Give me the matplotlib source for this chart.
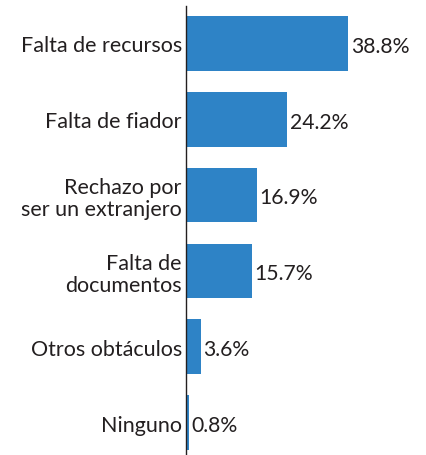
import matplotlib.pyplot as plt


categories = [
    "Falta de recursos",
    "Falta de fiador",
    "Rechazo por\nser un extranjero",
    "Falta de\ndocumentos",
    "Otros obtáculos",
    "Ninguno",
]
percentages = [38.8, 24.2, 16.9, 15.7, 3.6, 0.8]

BAR_COLOR = "#2E83C6"
TEXT_COLOR = "#231F20"

plt.rcParams["font.family"] = ["Lato", "DejaVu Sans"]

W, H = 426, 456
fig = plt.figure(figsize=(W / 100, H / 100), dpi=100)

# axis spine sits at x=186 px, runs from y=7 px to the bottom edge
ax = fig.add_axes([186 / W, 0, 240 / W, (H - 7) / H])

positions = list(range(len(categories)))
ax.barh(positions, percentages, height=0.72, color=BAR_COLOR)

px_per_cat = 75.8
ax.set_ylim((456 - 44.5) / px_per_cat, -(44.5 - 7) / px_per_cat)
ax.set_xlim(0, 240 / 4.18)

for pos, value in zip(positions, percentages):
    ax.text(value + 0.6, pos + 0.03, f"{value}%", va="center", ha="left",
            fontsize=15.2, color=TEXT_COLOR)

ax.set_yticks(positions)
ax.set_yticklabels(categories, fontsize=15.5, color=TEXT_COLOR, linespacing=1.15)
ax.tick_params(axis="y", length=0, pad=3)
ax.set_xticks([])

for side in ["top", "right", "bottom"]:
    ax.spines[side].set_visible(False)
ax.spines["left"].set_color("#231F20")
ax.spines["left"].set_linewidth(1.0)

fig.savefig("out.png", dpi=100)
